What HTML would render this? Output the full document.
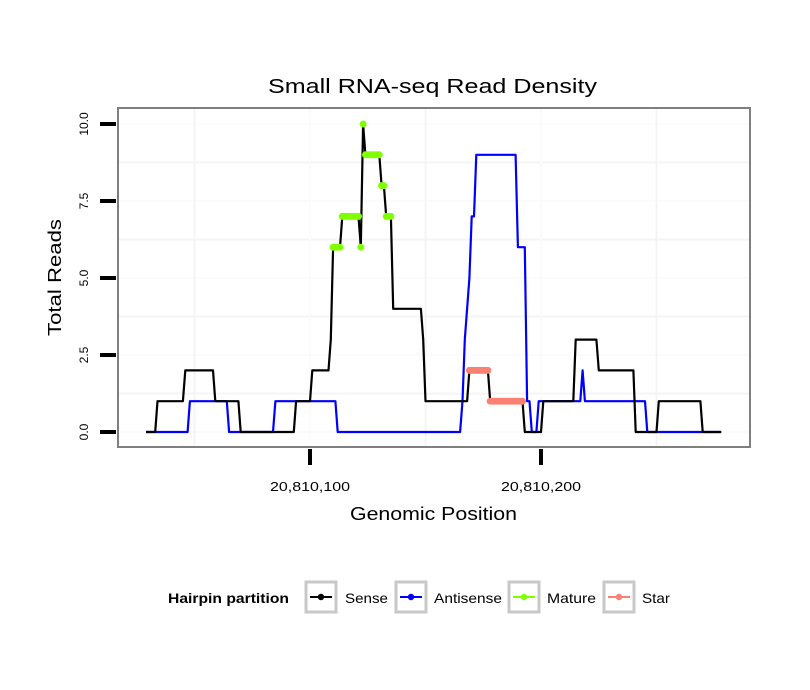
<!DOCTYPE html>
<html><head><meta charset="utf-8"><style>
body{margin:0;background:#fff;}
svg{display:block;font-family:"Liberation Sans",sans-serif;}
</style></head><body>
<svg id="chart" width="810" height="690" xmlns="http://www.w3.org/2000/svg">
<rect x="0" y="0" width="810" height="690" fill="#fff"/>
<text x="268" y="93" font-size="20" textLength="329" lengthAdjust="spacingAndGlyphs">Small RNA-seq Read Density</text>
<rect x="118" y="108" width="632" height="339" fill="#fff"/>
<g id="grid"></g>
<g id="series"></g>
<rect x="118" y="108" width="632" height="339" fill="none" stroke="#7f7f7f" stroke-width="2"/>
<g id="axes"></g>
<text x="350" y="520" font-size="18" textLength="167" lengthAdjust="spacingAndGlyphs">Genomic Position</text>
<text x="-58" y="0" font-size="18" textLength="117" lengthAdjust="spacingAndGlyphs" transform="translate(61,278) rotate(-90)">Total Reads</text>
<g>
<text x="168" y="603" font-size="14" font-weight="bold" textLength="121" lengthAdjust="spacingAndGlyphs">Hairpin partition</text>
<g>
<rect x="306" y="582" width="30" height="30" fill="#fff" stroke="#c8c8c8" stroke-width="3"/>
<line x1="310" y1="597" x2="332" y2="597" stroke="#000" stroke-width="2"/><circle cx="321" cy="597" r="3.2" fill="#000"/>
<text x="345" y="603" font-size="14" textLength="43" lengthAdjust="spacingAndGlyphs">Sense</text></g>
<g>
<rect x="396" y="582" width="30" height="30" fill="#fff" stroke="#c8c8c8" stroke-width="3"/>
<line x1="400" y1="597" x2="422" y2="597" stroke="#0000ff" stroke-width="2"/><circle cx="411" cy="597" r="3.2" fill="#0000ff"/>
<text x="434" y="603" font-size="14" textLength="68" lengthAdjust="spacingAndGlyphs">Antisense</text></g>
<g>
<rect x="509" y="582" width="30" height="30" fill="#fff" stroke="#c8c8c8" stroke-width="3"/>
<line x1="513" y1="597" x2="535" y2="597" stroke="#7fff00" stroke-width="2"/><circle cx="524" cy="597" r="3.2" fill="#7fff00"/>
<text x="547" y="603" font-size="14" textLength="49" lengthAdjust="spacingAndGlyphs">Mature</text></g>
<g>
<rect x="604" y="582" width="30" height="30" fill="#fff" stroke="#c8c8c8" stroke-width="3"/>
<line x1="608" y1="597" x2="630" y2="597" stroke="#fa8072" stroke-width="2"/><circle cx="619" cy="597" r="3.2" fill="#fa8072"/>
<text x="642" y="603" font-size="14" textLength="28" lengthAdjust="spacingAndGlyphs">Star</text></g>
</g>
</svg>
<script>
// positions are offsets from 20,810,000
const senseSegStart = [29,34,46,59,70,94,101,109,110,114,122,123,124,131,133,136,149,150,169,178,193,201,215,225,241,251,270];
const senseSegEnd   = [33,45,58,69,93,100,108,109,113,121,122,123,130,132,135,148,149,168,177,192,200,214,224,240,250,269,278];
const senseSegValue = [0,1,2,1,0,1,2,3,6,7,6,10,9,8,7,4,3,1,2,1,0,1,3,2,0,1,0];
const antiSegStart = [29,48,65,85,112,166,167,168,169,170,172,190,194,196,199,218,219,246];
const antiSegEnd   = [47,64,84,111,165,166,167,168,169,171,189,193,195,198,217,218,245,278];
const antiSegValue = [0,1,0,1,0,1,3,4,5,7,9,6,1,0,1,2,1,0];
const matureRange = [110,135];
const starRange = [169,192];
const yTicks = [0,2.5,5,7.5,10];
const yTickLabels = ["0.0","2.5","5.0","7.5","10.0"];
const yMinor = [1.25,3.75,6.25,8.75];
const xTicks = [100,200];
const xTickLabels = ["20,810,100","20,810,200"];
const xMinor = [50,150,250];

const NS="http://www.w3.org/2000/svg";
const xs = p => 310 + (p-100)*2.31;
const ys = v => 432 - v*30.8;
function expand(s,e,v){const pts=[];for(let i=0;i<s.length;i++){for(let p=s[i];p<=e[i];p++)pts.push([p,v[i]]);}return pts;}
function mk(tag,attrs,parent){const el=document.createElementNS(NS,tag);for(const k in attrs)el.setAttribute(k,attrs[k]);parent.appendChild(el);return el;}
const grid=document.getElementById('grid'), series=document.getElementById('series'), axes=document.getElementById('axes');
yMinor.concat(yTicks).forEach(v=>{if(ys(v)<110||ys(v)>445)return;const l=mk('line',{x1:119,x2:749,y1:ys(v),y2:ys(v),stroke:yMinor.includes(v)?'#f4f4f4':'#fbfbfb','stroke-width':2},grid);

});
xMinor.concat(xTicks).forEach(p=>{const l=mk('line',{x1:xs(p),x2:xs(p),y1:109,y2:446,stroke:xMinor.includes(p)?'#f4f4f4':'#fbfbfb','stroke-width':2},grid);

});
const sense=expand(senseSegStart,senseSegEnd,senseSegValue);
const anti=expand(antiSegStart,antiSegEnd,antiSegValue);
function line(pts,color,name){const el=mk('polyline',{points:pts.map(q=>xs(q[0]).toFixed(1)+','+ys(q[1]).toFixed(1)).join(' '),fill:'none',stroke:color,'stroke-width':2.2,'stroke-linejoin':'round'},series);

}
line(anti,'#0000ff','antisense-line');
line(sense,'#000','sense-line');
function dots(range,color,name){const g=mk('g',{},series);


const sub=sense.filter(q=>q[0]>=range[0]&&q[0]<=range[1]);
sub.forEach(q=>{const c=mk('circle',{cx:xs(q[0]),cy:ys(q[1]),r:3.5,fill:color},g);

});}
dots(matureRange,'#7fff00','mature-points');
dots(starRange,'#fa8072','star-points');
yTicks.forEach((v,i)=>{const t=mk('line',{x1:100,x2:116,y1:ys(v),y2:ys(v),stroke:'#000','stroke-width':4},axes);


const tx=mk('text',{transform:`translate(88,${ys(v)}) rotate(-90)`,'font-size':12,'text-anchor':'middle'},axes);tx.textContent=yTickLabels[i];

});
xTicks.forEach((p,i)=>{const t=mk('line',{x1:xs(p),x2:xs(p),y1:449,y2:465,stroke:'#000','stroke-width':4},axes);


const tx=mk('text',{x:xs(p)-40,y:491,'font-size':13,textLength:80,lengthAdjust:'spacingAndGlyphs'},axes);tx.textContent=xTickLabels[i];

});
</script>
</body></html>
